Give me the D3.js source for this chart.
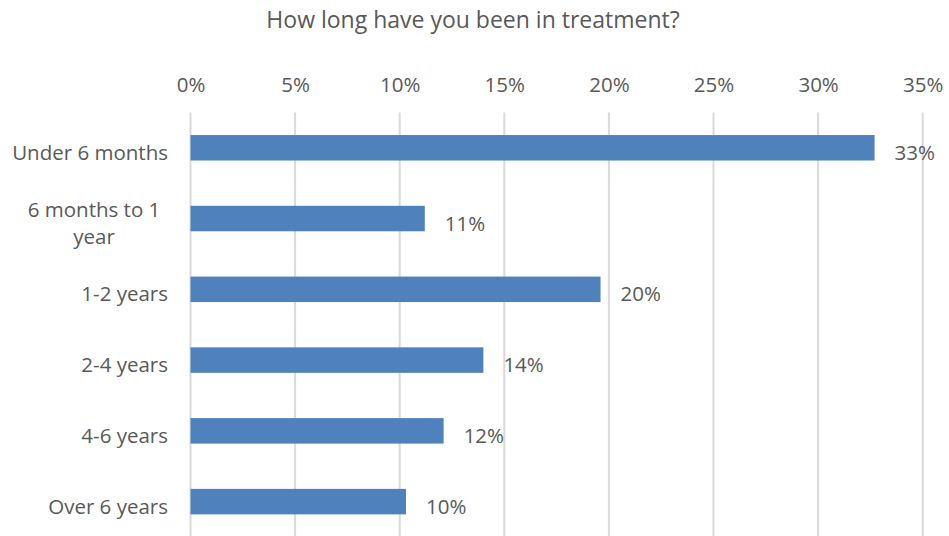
<!DOCTYPE html>
<html><head><meta charset="utf-8">
<script src="https://cdn.jsdelivr.net/npm/d3@7"></script>
<style>html,body{margin:0;padding:0;background:#fff;}svg{display:block;}</style>
</head><body>
<svg id="c" width="949" height="536"></svg>
<script>
const title = "How long have you been in treatment?";
const categories = ["Under 6 months", "6 months to 1 year", "1-2 years", "2-4 years", "4-6 years", "Over 6 years"];
const values = [32.7, 11.2, 19.6, 14.0, 12.1, 10.3];
const valueLabels = ["33%", "11%", "20%", "14%", "12%", "10%"];
const tickValues = [0, 5, 10, 15, 20, 25, 30, 35];

const svg = d3.select("#c");
const font = "'Open Sans', sans-serif";
const textColor = "#595959";
const fs = 20.5;

const x = d3.scaleLinear().domain([0, 35]).range([190.5, 922.7]);
const y = d3.scaleBand().domain(categories).range([112.4, 537]).paddingInner(0.64).paddingOuter(0.32);

svg.append("text").attr("x", 473).attr("y", 28).attr("text-anchor", "middle")
  .attr("font-family", font).attr("font-size", 23).attr("fill", textColor).text(title);

// gridlines
svg.append("g").selectAll("line").data(tickValues).join("line")
  .attr("x1", d => x(d)).attr("x2", d => x(d)).attr("y1", 112.5).attr("y2", 537)
  .attr("stroke", "#d9d9d9").attr("stroke-width", 2);

// top axis labels
const ax = svg.append("g").attr("transform", "translate(0,92)")
  .call(d3.axisTop(x).tickValues(tickValues).tickFormat(d => d + "%").tickSize(0).tickPadding(0));
ax.select(".domain").remove();
ax.selectAll("text").attr("font-family", font).attr("font-size", fs).attr("fill", textColor);

// bars
svg.append("g").selectAll("rect").data(values).join("rect")
  .attr("x", x(0)).attr("y", (d, i) => y(categories[i]))
  .attr("width", d => x(d) - x(0)).attr("height", y.bandwidth())
  .attr("fill", "#4f81bd");

// value labels
svg.append("g").selectAll("text").data(values).join("text")
  .attr("x", d => x(d) + 20).attr("y", (d, i) => y(categories[i]) + y.bandwidth() / 2 + 12)
  .attr("font-family", font).attr("font-size", fs).attr("fill", textColor)
  .text((d, i) => valueLabels[i]);

// category labels (wrapped)
const wrapMap = {"6 months to 1 year": ["6 months to 1", "year"]};
const cg = svg.append("g");
categories.forEach(c => {
  const lines = wrapMap[c] || [c];
  const cy = y(c) + y.bandwidth() / 2;
  const lh = 27;
  const t = cg.append("text").attr("text-anchor", lines.length > 1 ? "middle" : "end")
    .attr("font-family", font).attr("font-size", fs).attr("fill", textColor);
  lines.forEach((l, i) => {
    t.append("tspan").attr("x", lines.length > 1 ? 94 : 168)
      .attr("y", cy + 12 + (i - (lines.length - 1) / 2) * lh).text(l);
  });
});
</script>
</body></html>
